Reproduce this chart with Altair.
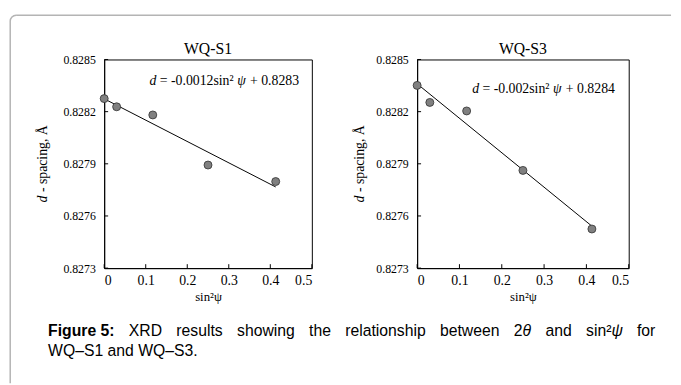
import altair as alt
import pandas as pd

# ---------------- data ----------------
sin2psi = [0.0, 0.030, 0.117, 0.250, 0.413]
d_s1 = [0.828275, 0.828228, 0.828181, 0.827893, 0.827798]
d_s3 = [0.828351, 0.828253, 0.828204, 0.827862, 0.827525]
panel_titles = ["WQ-S1", "WQ-S3"]
eq_slopes = ["-0.0012", "-0.002"]
eq_intercepts = ["0.8283", "0.8284"]
eq_anchor_x = [0.109, 0.130]
eq_anchor_y = [0.828375, 0.82833]
x_ticks = [0, 0.1, 0.2, 0.3, 0.4, 0.5]
y_ticks = [0.8273, 0.8276, 0.8279, 0.8282, 0.8285]
x_title = "sin²ψ"
y_title_parts = [("d", "italic"), (" - spacing, Å", "normal")]
caption_line1 = [
    [("Figure 5:", "bold")], [("XRD", "normal")], [("results", "normal")],
    [("showing", "normal")], [("the", "normal")], [("relationship", "normal")],
    [("between", "normal")], [("2", "normal"), ("θ", "italic")], [("and", "normal")],
    [("sin²", "normal"), ("ψ", "italic")], [("for", "normal")],
]
caption_line2 = "WQ–S1 and WQ–S3."

# ---------------- font metrics (per 1000 em) ----------------
SERIF = {' ': 250, '=': 564, '-': 333, '.': 250, 's': 389, 'i': 278, 'n': 500, '²': 300,
         '+': 564, 'd': 500, 'ψ': 686, 'p': 500, 'a': 444, 'c': 444, 'g': 500, ',': 250, 'Å': 722}
SANS = {' ': 278, 'X': 667, 'R': 722, 'D': 722, 'r': 333, 'e': 556, 's': 500, 'u': 556, 'l': 222,
        't': 278, 'h': 556, 'o': 556, 'w': 722, 'i': 222, 'n': 556, 'g': 556, 'a': 556, 'p': 556,
        'b': 556, 'd': 556, 'f': 278, '²': 333, 'θ': 556, 'ψ': 712}
SANS_BOLD = {' ': 278, 'F': 611, 'i': 278, 'g': 611, 'u': 611, 'r': 389, 'e': 556, '5': 556, ':': 333}


def tw(s, table, fs, default=500):
    return sum(table.get(c, default) for c in s) / 1000.0 * fs


def split_ws(txt):
    """Return (leading spaces, stripped text) since SVG trims outer whitespace."""
    stripped = txt.strip()
    lead = txt[: len(txt) - len(txt.lstrip())]
    return lead, stripped


SERIF_FONT = "Liberation Serif"
SANS_FONT = "Liberation Sans"
W1, W2, H = 211, 215, 212

xscale = alt.Scale(domain=[0, 0.5], nice=False, zero=False)
yscale = alt.Scale(domain=[0.8273, 0.8285], nice=False, zero=False)
xaxis = alt.Axis(values=x_ticks, format=".1~f", title=x_title, ticks=False, grid=False,
                 labelFontSize=14, labelPadding=6, titleFontSize=13, titlePadding=3,
                 titleFontWeight="normal")
yaxis = alt.Axis(values=y_ticks, format=".4f", title=None, ticks=False, grid=False,
                 labelFontSize=12, labelPadding=9)


def X(f):
    return alt.X(f, type="quantitative", scale=xscale, axis=xaxis)


def Y(f):
    return alt.Y(f, type="quantitative", scale=yscale, axis=yaxis)


one = alt.Data(values=[{}])


def panel(i, yvals, width, ytitle_dx, extras):
    df = pd.DataFrame({"x": sin2psi, "y": yvals})
    base = alt.Chart(df)
    layers = []
    layers.append(base.transform_regression("x", "y").mark_line(color="black", strokeWidth=1)
                  .encode(x=X("x"), y=Y("y")))
    layers.append(base.mark_circle(size=66, color="#808080", stroke="#303030", strokeWidth=0.8,
                                   opacity=1).encode(x=X("x"), y=Y("y")))
    # inward tick marks
    layers.append(alt.Chart(pd.DataFrame({"t": x_ticks})).mark_rule(color="black", strokeWidth=1)
                  .encode(x=X("t"), y=alt.value(H), y2=alt.value(H - 4)))
    layers.append(alt.Chart(pd.DataFrame({"t": y_ticks})).mark_rule(color="black", strokeWidth=1)
                  .encode(y=Y("t"), x=alt.value(0), x2=alt.value(4)))
    # regression equation
    fs = 14
    parts = [("d", "italic"), (" = " + eq_slopes[i] + "sin² ", "normal"), ("ψ", "italic"),
             (" + " + eq_intercepts[i], "normal")]
    adf = pd.DataFrame({"x": [eq_anchor_x[i]], "y": [eq_anchor_y[i]]})
    off = 0.0
    for txt, sty in parts:
        lead, core = split_ws(txt)
        layers.append(alt.Chart(adf).mark_text(text=core, align="left", baseline="middle",
                                               dx=off + tw(lead, SERIF, fs),
                                               font=SERIF_FONT, fontSize=fs, fontStyle=sty,
                                               color="black")
                      .encode(x=X("x"), y=Y("y")))
        off += tw(txt, SERIF, fs)
    # y axis title with italic d
    fs_y = 14
    total = sum(tw(t, SERIF, fs_y) for t, _ in y_title_parts)
    off = -total / 2
    for txt, sty in y_title_parts:
        lead, core = split_ws(txt)
        layers.append(alt.Chart(one).mark_text(text=core, align="left", baseline="middle", angle=270,
                                               dx=off + tw(lead, SERIF, fs_y), font=SERIF_FONT,
                                               fontSize=fs_y, fontStyle=sty, color="black")
                      .encode(x=alt.value(ytitle_dx), y=alt.value(H / 2)))
        off += tw(txt, SERIF, fs_y)
    # panel title
    layers.append(alt.Chart(one).mark_text(text=panel_titles[i], align="center", baseline="middle",
                                           font=SERIF_FONT, fontSize=16, color="black")
                  .encode(x=alt.value(width / 2), y=alt.value(-11)))
    layers += extras
    return alt.layer(*layers).properties(width=width, height=H)


# ---------------- frame and caption (drawn relative to first panel's origin) ----------------
OX, OY = 105, 56  # page position of first panel's plot area
frame_col = "#b4b4b4"
fx0, fy0, r = 9.5 - OX, 11 - OY, 6
extras = []
extras.append(alt.Chart(one).mark_rule(color=frame_col, strokeWidth=1.5)
              .encode(x=alt.value(fx0 + r), x2=alt.value(681 - OX), y=alt.value(fy0)))
extras.append(alt.Chart(one).mark_rule(color=frame_col, strokeWidth=1.5)
              .encode(x=alt.value(fx0), y=alt.value(fy0 + r), y2=alt.value(385 - OY)))
extras.append(alt.Chart(one).mark_arc(theta=4.712389, theta2=6.283185, radius=r + 0.75,
                                      radius2=r - 0.75, color=frame_col)
              .encode(x=alt.value(fx0 + r), y=alt.value(fy0 + r)))

cap_fs = 16
L, R = 48 - OX, 665 - OX
line1_y, line2_y = 332 - OY, 352 - OY


def piece_w(txt, sty):
    return tw(txt, SANS_BOLD if sty == "bold" else SANS, cap_fs, 556)


word_ws = [sum(piece_w(t, s) for t, s in w) for w in caption_line1]
gap = (R - L - sum(word_ws)) / (len(caption_line1) - 1)
xpos = L
for w, ww in zip(caption_line1, word_ws):
    px = xpos
    for txt, sty in w:
        extras.append(alt.Chart(one).mark_text(
            text=txt, align="left", baseline="middle", font=SANS_FONT, fontSize=cap_fs,
            fontWeight="bold" if sty == "bold" else "normal",
            fontStyle="italic" if sty == "italic" else "normal", color="black")
            .encode(x=alt.value(px), y=alt.value(line1_y)))
        px += piece_w(txt, sty)
    xpos += ww + gap
extras.append(alt.Chart(one).mark_text(text=caption_line2, align="left", baseline="middle",
                                       font=SANS_FONT, fontSize=cap_fs, color="black")
              .encode(x=alt.value(L), y=alt.value(line2_y)))

p1 = panel(0, d_s1, W1, -62, extras)
p2 = panel(1, d_s3, W2, -58, [])

chart = alt.hconcat(p1, p2, spacing=423 - OX - W1, bounds="flush").properties(
    padding={"left": 0.75, "top": 2.25, "right": 0, "bottom": 0},
    background="white",
).configure_view(stroke="black", strokeWidth=1).configure_axis(
    labelFont=SERIF_FONT, titleFont=SERIF_FONT, labelColor="black", titleColor="black",
    domainColor="black", domainWidth=1,
)

chart.save("out.html", embed_options={"renderer": "svg", "actions": False})
